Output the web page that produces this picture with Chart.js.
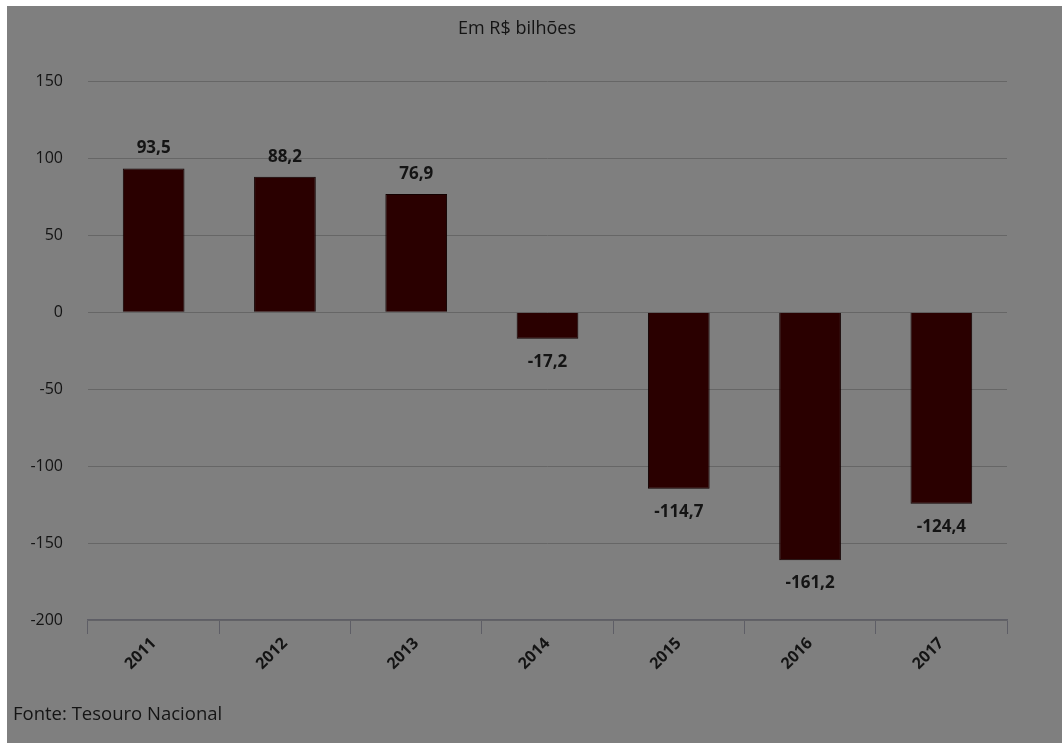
<!DOCTYPE html>
<html>
<head>
<meta charset="utf-8">
<script src="https://cdn.jsdelivr.net/npm/chart.js@4"></script>
<style>
  html, body { margin: 0; padding: 0; background: #ffffff; }
  .chart-box {
    position: absolute;
    left: 7px;
    top: 6px;
    width: 1055px;
    height: 737px;
    background: #7f7f7f;
  }
</style>
</head>
<body>
<div class="chart-box">
  <canvas id="chart"></canvas>
</div>
<script>
const years = ['2011', '2012', '2013', '2014', '2015', '2016', '2017'];
const resultValues = [93.5, 88.2, 76.9, -17.2, -114.7, -161.2, -124.4];
const yTicks = [150, 100, 50, 0, -50, -100, -150, -200];
const titleText = 'Em R$ bilhões';
const sourceText = 'Fonte: Tesouro Nacional';

const textColor = '#141414';
const fontFamily = '"Open Sans", sans-serif';

const formatValue = (v) => v.toFixed(1).replace('.', ',');

// value labels above positive bars, below negative ones
const valueLabels = {
  id: 'valueLabels',
  afterDatasetsDraw(chart) {
    const ctx = chart.ctx;
    const meta = chart.getDatasetMeta(0);
    ctx.save();
    ctx.font = 'bold 17px ' + fontFamily;
    ctx.fillStyle = textColor;
    ctx.textAlign = 'center';
    ctx.textBaseline = 'middle';
    meta.data.forEach((bar, i) => {
      const v = resultValues[i];
      const y = v >= 0 ? bar.y - 20 : bar.y + 23;
      ctx.fillText(formatValue(v), bar.x, y);
    });
    ctx.restore();
  }
};

const sourceNote = {
  id: 'sourceNote',
  afterDraw(chart) {
    const ctx = chart.ctx;
    ctx.save();
    ctx.font = '18.5px ' + fontFamily;
    ctx.fillStyle = textColor;
    ctx.textAlign = 'left';
    ctx.textBaseline = 'middle';
    ctx.fillText(sourceText, 6, 709);
    ctx.restore();
  }
};

const ctx = document.getElementById('chart').getContext('2d');
new Chart(ctx, {
  type: 'bar',
  data: {
    labels: years,
    datasets: [
      {
        label: 'Resultado',
        data: resultValues,
        backgroundColor: '#2a0000',
        borderColor: '#120000',
        borderWidth: 1,
        categoryPercentage: 1,
        barPercentage: 0.47,
      },
    ],
  },
  options: {
    responsive: true,
    maintainAspectRatio: false,
    animation: false,
    layout: {
      padding: { left: 20, right: 55, top: 0, bottom: 0 },
    },
    plugins: {
      legend: { display: false },
      tooltip: { enabled: false },
      title: {
        display: true,
        text: titleText,
        color: textColor,
        font: { size: 18, family: fontFamily, weight: 'normal' },
        padding: { top: 12, bottom: 42 },
      },
    },
    scales: {
      x: {
        grid: {
          offset: true,
          drawOnChartArea: false,
          drawTicks: true,
          tickLength: 14,
          color: '#5e5e66',
        },
        border: { display: true, color: '#5e5e66', width: 1.5 },
        ticks: {
          color: textColor,
          minRotation: 45,
          maxRotation: 45,
          padding: 0,
          font: { size: 16, family: fontFamily, weight: 'bold' },
        },
        afterFit: (scale) => { scale.height = 123; },
      },
      y: {
        min: -200,
        max: 150,
        afterBuildTicks: (scale) => {
          scale.ticks = yTicks.map((v) => ({ value: v }));
        },
        grid: {
          color: '#666666',
          drawTicks: false,
        },
        border: { display: false },
        ticks: {
          color: textColor,
          padding: 25,
          font: { size: 16, family: fontFamily },
        },
        afterFit: (scale) => { scale.width = 61; },
      },
    },
  },
  plugins: [valueLabels, sourceNote],
});
</script>
</body>
</html>
